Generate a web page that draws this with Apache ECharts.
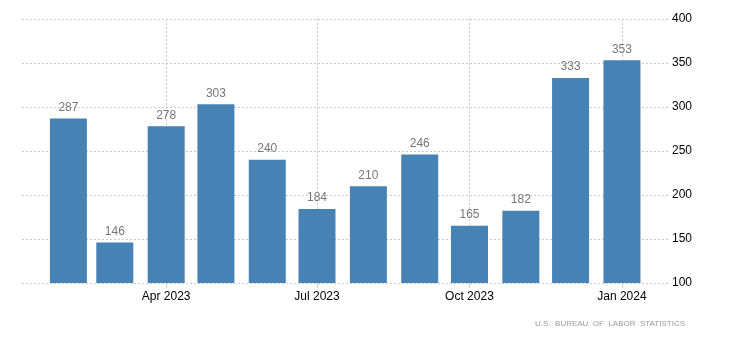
<!DOCTYPE html>
<html>
<head>
<meta charset="utf-8">
<script src="https://cdn.jsdelivr.net/npm/echarts@6/dist/echarts.min.js"></script>
<style>html,body{margin:0;padding:0;background:#fff}#c{width:730px;height:351px}</style>
</head>
<body>
<div id="c"></div>
<script>
var months = ['2023-02-01','2023-03-01','2023-04-01','2023-05-01','2023-06-01','2023-07-01','2023-08-01','2023-09-01','2023-10-01','2023-11-01','2023-12-01','2024-01-01'];
var values = [287,146,278,303,240,184,210,246,165,182,333,353];
var yTicks = [100,150,200,250,300,350,400];
var monthNames = ['Jan','Feb','Mar','Apr','May','Jun','Jul','Aug','Sep','Oct','Nov','Dec'];
var source = 'U.S.  BUREAU  OF  LABOR  STATISTICS';

var DAY = 86400000;
var W = 730, gridLeft = 22, gridRight = 60, barW = 37;
var axisLen = W - gridLeft - gridRight;
// desired visible extent
var vMin = Date.UTC(2023,0,4), vMax = Date.UTC(2024,0,30);
// ECharts widens a bar base axis by the bar overflow; pre-shrink so the final extent is the desired one
var keep = 1 - barW / axisLen;
var shrink = (vMax - vMin) * (1 - keep) / 2;
var xMin = vMin + shrink, xMax = vMax - shrink;

var chart = echarts.init(document.getElementById('c'));
chart.setOption({
  animation: false,
  textStyle: {fontFamily: 'Arial, "Liberation Sans", sans-serif'},
  grid: {left: gridLeft, right: gridRight, top: 19, bottom: 68},
  xAxis: {
    type: 'time',
    min: xMin,
    max: xMax,
    minInterval: 85*DAY,
    maxInterval: 95*DAY,
    splitNumber: 4,
    axisLine: {show: false},
    axisTick: {show: true, length: 5, lineStyle: {color: '#ccc'}},
    splitLine: {show: true, showMinLine: false, showMaxLine: false, lineStyle: {type: [2,2], color: '#ccc'}},
    axisLabel: {
      color: '#000', fontSize: 12, margin: 8, showMinLabel: false, showMaxLabel: false,
      formatter: function (v) { var d = new Date(v); return monthNames[d.getUTCMonth()] + ' ' + d.getUTCFullYear(); }
    }
  },
  yAxis: {
    type: 'value', position: 'right',
    min: yTicks[0], max: yTicks[yTicks.length-1], interval: 50,
    axisLine: {show: false}, axisTick: {show: false},
    splitLine: {show: true, lineStyle: {type: [2,2], color: '#ccc'}},
    axisLabel: {color: '#000', fontSize: 12, margin: 2}
  },
  series: [{
    type: 'bar',
    barWidth: barW,
    data: months.map(function (m, i) { var p = m.split('-'); return [Date.UTC(+p[0], +p[1]-1, +p[2]), values[i]]; }),
    itemStyle: {color: '#4682b4'},
    label: {show: true, position: 'top', distance: 5, color: '#777', fontSize: 12,
      formatter: function (p) { return p.value[1]; }}
  }],
  graphic: [{
    type: 'text', right: 45, top: 320,
    style: {text: source, fill: '#999', fontSize: 8, fontFamily: 'Arial, "Liberation Sans", sans-serif'}
  }]
});
</script>
</body>
</html>
